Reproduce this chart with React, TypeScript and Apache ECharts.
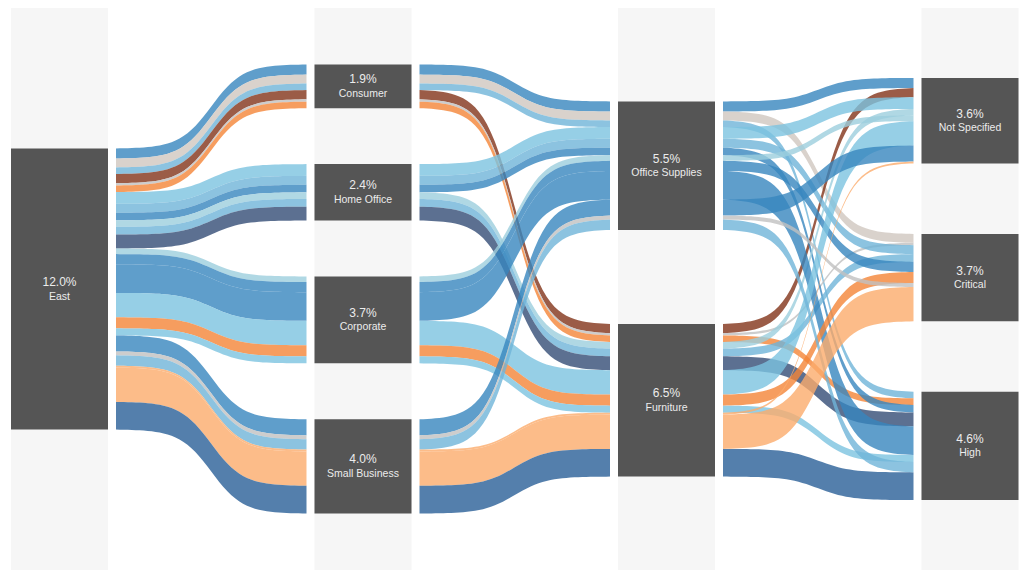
import React, { useEffect, useRef } from "react";
import * as echarts from "echarts";

// ---------- data ----------
const regions = ["East"];
const segments = ["Consumer", "Home Office", "Corporate", "Small Business"];
const categories = ["Office Supplies", "Furniture"];
const priorities = ["Not Specified", "Critical", "High"];

// one thread per (segment, category, priority), in stacking order
const threadSegment = [
  "Consumer", "Consumer", "Consumer", "Consumer", "Consumer", "Consumer",
  "Home Office", "Home Office", "Home Office", "Home Office", "Home Office", "Home Office",
  "Corporate", "Corporate", "Corporate", "Corporate", "Corporate", "Corporate",
  "Small Business", "Small Business", "Small Business", "Small Business", "Small Business", "Small Business",
];
const threadCategory = [
  "Office Supplies", "Office Supplies", "Office Supplies", "Furniture", "Furniture", "Furniture",
  "Office Supplies", "Office Supplies", "Office Supplies", "Furniture", "Furniture", "Furniture",
  "Office Supplies", "Office Supplies", "Office Supplies", "Furniture", "Furniture", "Furniture",
  "Office Supplies", "Office Supplies", "Office Supplies", "Furniture", "Furniture", "Furniture",
];
const threadPriority = [
  "Not Specified", "Critical", "High", "Not Specified", "Critical", "High",
  "Not Specified", "Critical", "High", "Not Specified", "Critical", "High",
  "Not Specified", "Critical", "High", "Not Specified", "Critical", "High",
  "Not Specified", "Critical", "High", "Not Specified", "Critical", "High",
];
const threadValue = [
  0.43, 0.38, 0.28, 0.39, 0.1, 0.28,
  0.5, 0.38, 0.32, 0.28, 0.33, 0.59,
  0.24, 0.43, 1.22, 1.04, 0.47, 0.3,
  0.68, 0.17, 0.44, 0.08, 1.46, 1.18,
];
const threadShade = [
  "blue", "beige", "lightBlue", "brown", "gray", "orange",
  "sky", "lightBlue", "blue", "paleBlue", "lightBlue", "slate",
  "paleBlue", "blue", "blue", "sky", "orange", "sky",
  "blue", "gray", "lightBlue", "peach", "peach", "navy",
];

// ---------- style ----------
const PALETTE: Record<string, string> = {
  blue: "#3786be",
  sky: "#7cc3e0",
  lightBlue: "#6fb4d8",
  paleBlue: "#9ccedd",
  slate: "#334c76",
  navy: "#295f97",
  beige: "#cfc7bf",
  gray: "#c0c0c0",
  brown: "#823319",
  orange: "#f48537",
  peach: "#fbab6b",
};
const RIBBON_OPACITY = 0.8;
const NODE_HALF = 48.5;
const RIBBON_GAP = 8;
const Y_MAX = 23.92;
const COLUMN_GAP = [0, 2.38, 4.0, 3.0];
const SIGMOID_SPAN = 6;
const CURVE_STEPS = 48;
const FONT = '"Liberation Sans", Arial, sans-serif';

function buildLayout() {
  const columns = [regions, segments, categories, priorities];
  const keyOf = [
    (_i: number) => regions[0],
    (i: number) => threadSegment[i],
    (i: number) => threadCategory[i],
    (i: number) => threadPriority[i],
  ];
  const n = threadValue.length;
  const nodeData: number[][] = [];
  const nodeNames: string[] = [];
  const nodeTotals: number[] = [];
  const pos: number[][] = [];
  columns.forEach((names, c) => {
    const totals = names.map((name) => {
      let s = 0;
      for (let i = 0; i < n; i++) if (keyOf[c](i) === name) s += threadValue[i];
      return s;
    });
    const total = totals.reduce((a, b) => a + b, 0);
    let y = Y_MAX / 2 - (total + COLUMN_GAP[c] * (names.length - 1)) / 2;
    const starts: number[] = [];
    names.forEach((name, k) => {
      starts.push(y);
      nodeData.push([c, y, y + totals[k], nodeNames.length]);
      nodeNames.push(name);
      nodeTotals.push(totals[k]);
      y += totals[k] + COLUMN_GAP[c];
    });
    const cursor = starts.slice();
    const colPos: number[] = [];
    for (let i = 0; i < n; i++) {
      const k = names.indexOf(keyOf[c](i));
      colPos.push(cursor[k]);
      cursor[k] += threadValue[i];
    }
    pos.push(colPos);
  });
  const ribbonData: number[][] = [];
  for (let c = 0; c < 3; c++) {
    for (let i = 0; i < n; i++) {
      ribbonData.push([c, pos[c][i], pos[c][i] + threadValue[i], pos[c + 1][i], pos[c + 1][i] + threadValue[i], i]);
    }
  }
  return { nodeData, nodeNames, nodeTotals, ribbonData };
}

const sig = (t: number) => 1 / (1 + Math.exp(-t));
const S0 = sig(-SIGMOID_SPAN);
const S1 = sig(SIGMOID_SPAN);
function ease(f: number) {
  return (sig(-SIGMOID_SPAN + 2 * SIGMOID_SPAN * f) - S0) / (S1 - S0);
}

export default function App() {
  const ref = useRef<HTMLDivElement>(null);
  useEffect(() => {
    if (!ref.current) return;
    const chart = echarts.init(ref.current, undefined, { renderer: "svg" });
    const { nodeData, nodeNames, nodeTotals, ribbonData } = buildLayout();

    const option: any = {
      animation: false,
      backgroundColor: "#ffffff",
      grid: { left: 59.5, right: 54, top: 8, bottom: 1 },
      xAxis: { type: "value", min: 0, max: 3, show: false },
      yAxis: { type: "value", min: 0, max: Y_MAX, inverse: true, show: false },
      series: [
        {
          type: "custom",
          z: 1,
          clip: false,
          silent: true,
          data: [[0], [1], [2], [3]],
          renderItem: (_p: any, api: any) => {
            const top = api.coord([api.value(0), 0]);
            const bot = api.coord([api.value(0), Y_MAX]);
            return {
              type: "rect",
              shape: { x: top[0] - NODE_HALF, y: top[1], width: NODE_HALF * 2, height: bot[1] - top[1] },
              style: { fill: "#f6f6f6" },
            };
          },
        },
        {
          type: "custom",
          z: 2,
          clip: false,
          silent: true,
          data: ribbonData,
          renderItem: (_p: any, api: any) => {
            const c = api.value(0);
            const a = api.coord([c, api.value(1)]);
            const b = api.coord([c, api.value(2)]);
            const e = api.coord([c + 1, api.value(3)]);
            const f = api.coord([c + 1, api.value(4)]);
            const x0 = a[0] + NODE_HALF + RIBBON_GAP;
            const x1 = e[0] - NODE_HALF - RIBBON_GAP;
            const top: number[][] = [];
            const bottom: number[][] = [];
            for (let s = 0; s <= CURVE_STEPS; s++) {
              const fr = s / CURVE_STEPS;
              const k = ease(fr);
              const x = x0 + (x1 - x0) * fr;
              top.push([x, a[1] + (e[1] - a[1]) * k]);
              bottom.push([x, b[1] + (f[1] - b[1]) * k]);
            }
            const points = top.concat(bottom.reverse());
            const color = PALETTE[threadShade[api.value(5)]];
            return {
              type: "polygon",
              shape: { points },
              style: { fill: color, opacity: RIBBON_OPACITY },
            };
          },
        },
        {
          type: "custom",
          z: 3,
          clip: false,
          silent: true,
          data: nodeData,
          renderItem: (_p: any, api: any) => {
            const c = api.value(0);
            const t = api.coord([c, api.value(1)]);
            const b = api.coord([c, api.value(2)]);
            const idx = api.value(3);
            const mid = (t[1] + b[1]) / 2;
            const pct = (Math.round(nodeTotals[idx] * 10) / 10).toFixed(1) + "%";
            return {
              type: "group",
              children: [
                {
                  type: "rect",
                  shape: { x: t[0] - NODE_HALF, y: t[1], width: NODE_HALF * 2, height: b[1] - t[1] },
                  style: { fill: "#555555" },
                },
                {
                  type: "text",
                  x: t[0],
                  y: mid - 7,
                  style: {
                    text: pct,
                    fill: "#ececec",
                    fontSize: 12,
                    fontFamily: FONT,
                    align: "center",
                    verticalAlign: "middle",
                  },
                },
                {
                  type: "text",
                  x: t[0],
                  y: mid + 6.5,
                  style: {
                    text: nodeNames[idx],
                    fill: "#ececec",
                    fontSize: 10.5,
                    fontFamily: FONT,
                    align: "center",
                    verticalAlign: "middle",
                  },
                },
              ],
            };
          },
        },
      ],
    };
    chart.setOption(option);
    return () => chart.dispose();
  }, []);

  return (
    <div
      ref={ref}
      style={{ position: "fixed", left: 0, top: 0, width: 1024, height: 571, background: "#ffffff" }}
    />
  );
}
